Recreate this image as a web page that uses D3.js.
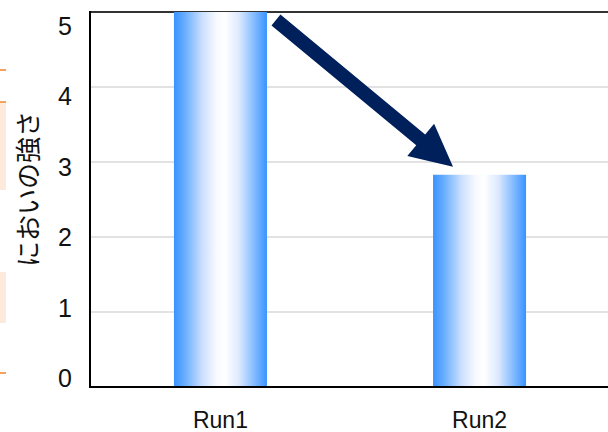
<!DOCTYPE html>
<html><head><meta charset="utf-8">
<script src="https://cdn.jsdelivr.net/npm/d3@7"></script>
<style>html,body{margin:0;padding:0;background:#fff;overflow:hidden}</style>
</head><body>
<script>
const categories = ["Run1", "Run2"];
const values = [5.0, 2.83];
const yTicks = [0, 1, 2, 3, 4, 5];
const yLabel = "においの強さ";

(function () {
const W = 608, H = 432;
const mLeft = 90, mTop = 12, mBottom = 387, mRight = 610;

const svg = d3.select("body").append("svg").attr("width", W).attr("height", H);

const defs = svg.append("defs");
const grad = defs.append("linearGradient").attr("id", "barGrad")
  .attr("x1", "0%").attr("x2", "100%").attr("y1", "0%").attr("y2", "0%");
[[0, "#3893ff"], [0.12, "#6aaeff"], [0.3, "#c9defe"], [0.45, "#f6f9ff"], [0.55, "#ffffff"], [0.7, "#dce9fe"], [0.88, "#7ab6ff"], [1, "#3893ff"]]
  .forEach(([o, c]) => grad.append("stop").attr("offset", o).attr("stop-color", c));

// stray marks on left edge
const deco = svg.append("g");
deco.append("rect").attr("x", 0).attr("y", 102).attr("width", 6).attr("height", 88).attr("fill", "#fdeadc");
deco.append("rect").attr("x", 0).attr("y", 272).attr("width", 6).attr("height", 51).attr("fill", "#fdeadc");
[70, 102, 373].forEach(yy => deco.append("rect").attr("x", 0).attr("y", yy - 1).attr("width", 6).attr("height", 2).attr("fill", "#f5a25d"));

const x = d3.scaleBand().domain(categories).range([mLeft, mRight]).paddingInner(0.641).paddingOuter(0.324);
const y = d3.scaleLinear().domain([0, 5]).range([mBottom, mTop]);
const yLab = d3.scaleLinear().domain([0, 5]).range([378, 26]);

// gridlines
svg.append("g").selectAll("line").data(yTicks.filter(t => t > 0 && t < 5)).join("line")
  .attr("x1", mLeft).attr("x2", W).attr("y1", d => y(d)).attr("y2", d => y(d))
  .attr("stroke", "#d9d9d9").attr("stroke-width", 1.5);

// top border
svg.append("line").attr("x1", mLeft).attr("x2", W).attr("y1", y(5)).attr("y2", y(5))
  .attr("stroke", "#333").attr("stroke-width", 2);

// bars
svg.append("g").selectAll("rect").data(values).join("rect")
  .attr("x", (d, i) => x(categories[i])).attr("width", x.bandwidth())
  .attr("y", d => y(d)).attr("height", d => y(0) - y(d))
  .attr("fill", "url(#barGrad)");

// axes lines
svg.append("line").attr("x1", mLeft).attr("x2", mLeft).attr("y1", mTop - 1).attr("y2", mBottom + 1)
  .attr("stroke", "#000").attr("stroke-width", 2);
svg.append("line").attr("x1", mLeft - 1).attr("x2", W).attr("y1", mBottom).attr("y2", mBottom)
  .attr("stroke", "#000").attr("stroke-width", 2);

// y tick labels
svg.append("g").selectAll("text").data(yTicks).join("text")
  .attr("x", 72).attr("y", d => yLab(d)).attr("dy", "0.36em")
  .attr("text-anchor", "end").attr("font-family", "Liberation Sans, Arial, sans-serif")
  .attr("font-size", 25).attr("fill", "#111").text(d => d);

// x labels
svg.append("g").selectAll("text").data(categories).join("text")
  .attr("x", d => x(d) + x.bandwidth() / 2).attr("y", 428)
  .attr("text-anchor", "middle").attr("font-family", "Liberation Sans, Arial, sans-serif")
  .attr("font-size", 23).attr("fill", "#111").text(d => d);

// y label
svg.append("text").attr("transform", "translate(38,189) rotate(-90)")
  .attr("text-anchor", "middle").attr("font-family", "Noto Sans CJK JP, sans-serif")
  .attr("font-size", 26).attr("fill", "#111").text(yLabel);

// arrow from bar1 top toward bar2 top
const x0 = x(categories[0]) + x.bandwidth() + 9, y0 = y(values[0]) + 8;
const x1 = x(categories[1]) + 20, y1 = y(values[1]) - 8;
const ang = Math.atan2(y1 - y0, x1 - x0);
const len = Math.hypot(x1 - x0, y1 - y0);
const sw = 7, hw = 21, hl = 42;
const pts = [[0, -sw], [len - hl, -sw], [len - hl, -hw], [len, 0], [len - hl, hw], [len - hl, sw], [0, sw]];
svg.append("polygon")
  .attr("points", pts.map(p => p.join(",")).join(" "))
  .attr("transform", `translate(${x0},${y0}) rotate(${ang * 180 / Math.PI})`)
  .attr("fill", "#00205c");
})();
</script>
</body></html>
